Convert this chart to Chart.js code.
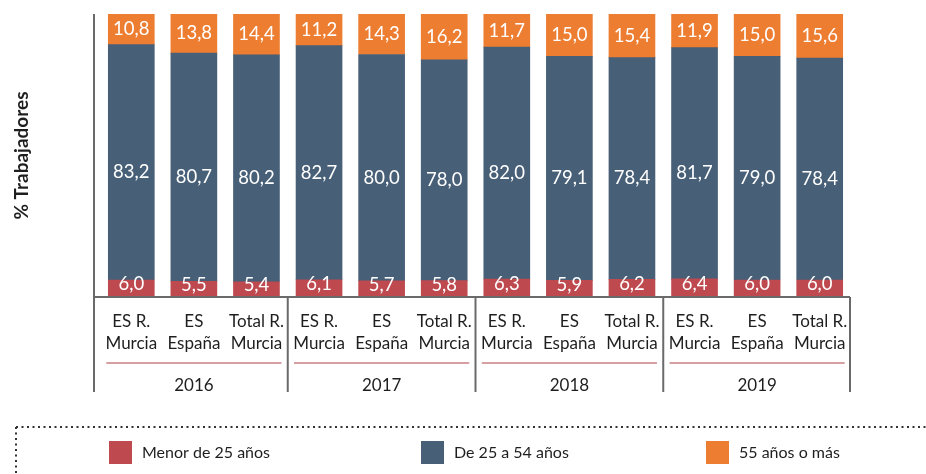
<!DOCTYPE html>
<html>
<head>
<meta charset="utf-8">
<script src="https://cdn.jsdelivr.net/npm/chart.js@4.4.1/dist/chart.umd.min.js"></script>
<style>
  html,body{margin:0;padding:0;background:#fff;}
  #wrap{width:926px;height:474px;position:relative;}
</style>
</head>
<body>
<div id="wrap"><canvas id="c" width="926" height="474"></canvas></div>
<script>
// ---- DATA ----
const years = ['2016', '2017', '2018', '2019'];
const subgroups = [['ES R.', 'Murcia'], ['ES', 'España'], ['Total R.', 'Murcia']];
const seriesNames = ['Menor de 25 años', 'De 25 a 54 años', '55 años o más'];
const menor25 = [6.0, 5.5, 5.4, 6.1, 5.7, 5.8, 6.3, 5.9, 6.2, 6.4, 6.0, 6.0];
const de25a54 = [83.2, 80.7, 80.2, 82.7, 80.0, 78.0, 82.0, 79.1, 78.4, 81.7, 79.0, 78.4];
const mas55 = [10.8, 13.8, 14.4, 11.2, 14.3, 16.2, 11.7, 15.0, 15.4, 11.9, 15.0, 15.6];
const yAxisTitle = '% Trabajadores';

// ---- STYLE ----
const colors = ['#BE4A50', '#475F77', '#ED7D31'];
const labelOffsets = [-4, 10, 0];
const FONT = 'Lato, "Open Sans", sans-serif';
const frameBottom = 392;
const underlineY = 363;
const legendX = [109, 421, 706];
const legendY = 441;

const categories = [];
years.forEach(() => subgroups.forEach(s => categories.push(s)));

const decor = {
  id: 'decor',
  afterDatasetsDraw(chart) {
    const ctx = chart.ctx, a = chart.chartArea, xs = chart.scales.x;
    ctx.save();
    // value labels
    ctx.font = '18.5px ' + FONT;
    ctx.fillStyle = '#ffffff';
    ctx.textAlign = 'center';
    ctx.textBaseline = 'middle';
    chart.data.datasets.forEach((ds, di) => {
      const meta = chart.getDatasetMeta(di);
      meta.data.forEach((el, i) => {
        const y = (el.y + el.base) / 2 + labelOffsets[di];
        ctx.fillText(ds.data[i].toFixed(1).replace('.', ','), el.x, y);
      });
    });
    // frame lines
    ctx.strokeStyle = '#6a6a6a';
    ctx.lineWidth = 2;
    const left = a.left - 6;
    ctx.beginPath();
    ctx.moveTo(left, a.top); ctx.lineTo(left, frameBottom);
    ctx.moveTo(left, a.bottom); ctx.lineTo(a.right - 1, a.bottom);
    const n = subgroups.length;
    for (let g = 1; g <= years.length; g++) {
      let bx;
      if (g < years.length) bx = (xs.getPixelForValue(g * n - 1) + xs.getPixelForValue(g * n)) / 2;
      else bx = a.right - 1;
      ctx.moveTo(bx, a.bottom); ctx.lineTo(bx, frameBottom);
    }
    ctx.stroke();
    // pink underlines
    const meta0 = chart.getDatasetMeta(0);
    ctx.strokeStyle = '#c98084';
    ctx.lineWidth = 1.5;
    ctx.beginPath();
    for (let g = 0; g < years.length; g++) {
      const f = meta0.data[g * n], l = meta0.data[g * n + n - 1];
      ctx.moveTo(f.x - f.width / 2 - 2, underlineY);
      ctx.lineTo(l.x + l.width / 2 + 2, underlineY);
    }
    ctx.stroke();
    // y title
    ctx.save();
    ctx.translate(22, (a.top + a.bottom) / 2);
    ctx.rotate(-Math.PI / 2);
    ctx.font = 'bold 19px ' + FONT;
    ctx.fillStyle = '#1e1e1e';
    ctx.fillText(yAxisTitle, 0, 0);
    ctx.restore();
    // legend dotted frame
    ctx.strokeStyle = '#333';
    ctx.lineWidth = 2;
    ctx.setLineDash([2, 3.5]);
    ctx.beginPath();
    ctx.moveTo(16, 427); ctx.lineTo(926, 427);
    ctx.moveTo(16, 427); ctx.lineTo(16, 474);
    ctx.stroke();
    ctx.setLineDash([]);
    // legend items
    ctx.font = '16px ' + FONT;
    ctx.textAlign = 'left';
    ctx.textBaseline = 'middle';
    chart.data.datasets.forEach((ds, di) => {
      ctx.fillStyle = ds.backgroundColor;
      ctx.fillRect(legendX[di], legendY, 23, 23);
      ctx.fillStyle = '#1e1e1e';
      ctx.fillText(ds.label, legendX[di] + 33, legendY + 12);
    });
    ctx.restore();
  }
};

function build() {
  new Chart(document.getElementById('c'), {
    type: 'bar',
    data: {
      labels: categories,
      datasets: [
        { label: seriesNames[0], data: menor25, backgroundColor: colors[0] },
        { label: seriesNames[1], data: de25a54, backgroundColor: colors[1] },
        { label: seriesNames[2], data: mas55, backgroundColor: colors[2] }
      ]
    },
    options: {
      responsive: false,
      animation: false,
      barThickness: 46,
      layout: { padding: { top: 14, left: 100, right: 75, bottom: 77 } },
      plugins: { legend: { display: false }, tooltip: { enabled: false } },
      scales: {
        x: {
          stacked: true,
          grid: { display: false, drawTicks: false },
          border: { display: false },
          ticks: {
            autoSkip: false, maxRotation: 0, padding: 13,
            color: '#1e1e1e',
            font: { family: FONT, size: 17, lineHeight: 1.3 }
          },
          afterFit(s) { s.height = 60; }
        },
        x2: {
          type: 'category',
          labels: years,
          offset: true,
          position: 'bottom',
          grid: { display: false, drawTicks: false },
          border: { display: false },
          ticks: { padding: 18, color: '#1e1e1e', font: { family: FONT, size: 17 } },
          afterFit(s) { s.height = 40; }
        },
        y: {
          stacked: true, min: 0, max: 100, display: false
        }
      }
    },
    plugins: [decor]
  });
}
if (document.fonts && document.fonts.load) {
  Promise.all([document.fonts.load('16px Lato'), document.fonts.load('bold 19px Lato')]).then(build, build);
} else build();
</script>
</body>
</html>
